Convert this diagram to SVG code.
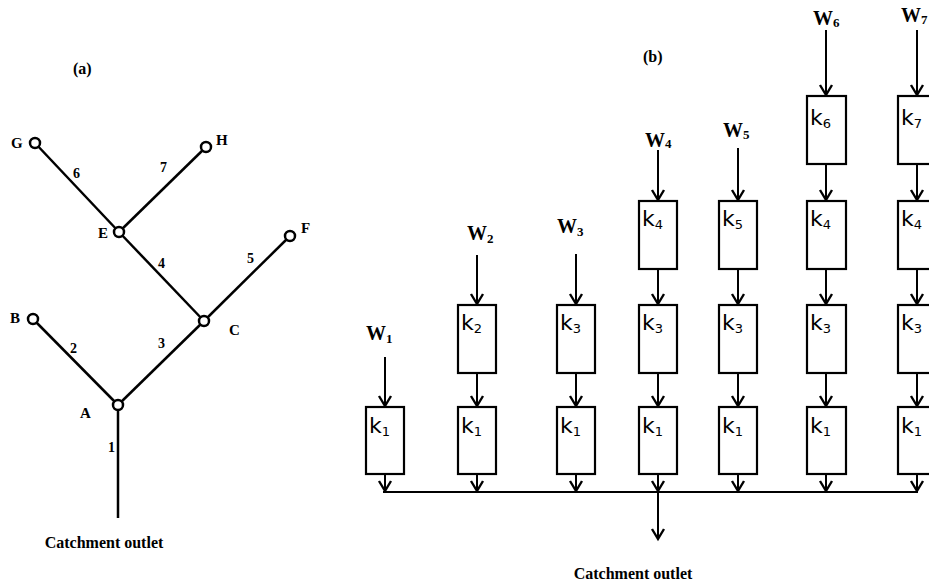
<svg xmlns="http://www.w3.org/2000/svg" width="929" height="586" viewBox="0 0 929 586">
<defs>
<style>
.lbl{font-family:"Liberation Serif",serif;font-weight:bold;font-size:15px;fill:#000}
.num{font-family:"Liberation Serif",serif;font-weight:bold;font-size:14px;fill:#000}
.cap{font-family:"Liberation Serif",serif;font-weight:bold;font-size:16px;fill:#000}
.w{font-family:"Liberation Serif",serif;font-weight:bold;font-size:20px;fill:#000}
.k{font-family:"DejaVu Sans",sans-serif;font-size:22px;fill:#000}
.sub{font-size:13px}
.edge{stroke:#000;stroke-width:2.5;fill:none}
.node{stroke:#000;stroke-width:2.5;fill:#fff}
.box{stroke:#000;stroke-width:2.2;fill:#fff}
.arr{stroke:#000;stroke-width:2;fill:none;marker-end:url(#ah)}
.ln{stroke:#000;stroke-width:2;fill:none}
</style>
<marker id="ah" markerUnits="userSpaceOnUse" markerWidth="14" markerHeight="16" viewBox="-12 -8 14 16" refX="0" refY="0" orient="auto" overflow="visible">
<path d="M-10,-6 L0,0 L-10,6" fill="none" stroke="#000" stroke-width="2.4"/>
</marker>
</defs>

<!-- (a) tree -->
<text class="cap" x="73" y="74">(a)</text>
<g id="edges-a">
<line class="edge" x1="35" y1="143" x2="119" y2="232"/>
<line class="edge" x1="206" y1="147" x2="119" y2="232"/>
<line class="edge" x1="119" y1="232" x2="204" y2="321"/>
<line class="edge" x1="290" y1="236" x2="204" y2="321"/>
<line class="edge" x1="33" y1="319" x2="118" y2="405"/>
<line class="edge" x1="204" y1="321" x2="118" y2="405"/>
<line class="edge" x1="118" y1="405" x2="118" y2="518"/>
<text class="num" x="73" y="178">6</text>
<text class="num" x="160" y="172">7</text>
<text class="num" x="158" y="268">4</text>
<text class="num" x="247" y="263">5</text>
<text class="num" x="70" y="353">2</text>
<text class="num" x="158" y="348">3</text>
<text class="num" x="108" y="452">1</text>
</g>
<g id="nG"><circle class="node" cx="35" cy="143" r="5"/><text class="lbl" x="11" y="148">G</text></g>
<g id="nH"><circle class="node" cx="206" cy="147" r="5"/><text class="lbl" x="216" y="145">H</text></g>
<g id="nE"><circle class="node" cx="119" cy="232" r="5"/><text class="lbl" x="98" y="238">E</text></g>
<g id="nF"><circle class="node" cx="290" cy="236" r="5"/><text class="lbl" x="301" y="233">F</text></g>
<g id="nC"><circle class="node" cx="204" cy="321" r="5"/><text class="lbl" x="229" y="335">C</text></g>
<g id="nB"><circle class="node" cx="33" cy="319" r="5"/><text class="lbl" x="10" y="323">B</text></g>
<g id="nA"><circle class="node" cx="118" cy="405" r="5"/><text class="lbl" x="80" y="418">A</text></g>
<text class="cap" x="104" y="548" text-anchor="middle">Catchment outlet</text>

<!-- (b) cascade -->
<text class="cap" x="643" y="62">(b)</text>

<g id="connectors">
<line class="arr" x1="385" y1="357" x2="385" y2="406"/>
<line class="arr" x1="477" y1="255" x2="477" y2="304"/>
<line class="arr" x1="576" y1="254" x2="576" y2="304"/>
<line class="arr" x1="658" y1="150" x2="658" y2="200"/>
<line class="arr" x1="738" y1="148" x2="738" y2="200"/>
<line class="arr" x1="826" y1="30" x2="826" y2="95"/>
<line class="arr" x1="917" y1="30" x2="917" y2="95"/>
<line class="arr" x1="826" y1="164" x2="826" y2="200"/>
<line class="arr" x1="917" y1="164" x2="917" y2="200"/>
<line class="arr" x1="658" y1="269" x2="658" y2="304"/>
<line class="arr" x1="738" y1="269" x2="738" y2="304"/>
<line class="arr" x1="826" y1="269" x2="826" y2="304"/>
<line class="arr" x1="917" y1="269" x2="917" y2="304"/>
<line class="arr" x1="477" y1="373" x2="477" y2="406"/>
<line class="arr" x1="576" y1="373" x2="576" y2="406"/>
<line class="arr" x1="658" y1="373" x2="658" y2="406"/>
<line class="arr" x1="738" y1="373" x2="738" y2="406"/>
<line class="arr" x1="826" y1="373" x2="826" y2="406"/>
<line class="arr" x1="917" y1="373" x2="917" y2="406"/>
<line class="arr" x1="385" y1="474" x2="385" y2="491"/>
<line class="arr" x1="477" y1="474" x2="477" y2="491"/>
<line class="arr" x1="576" y1="474" x2="576" y2="491"/>
<line class="arr" x1="658" y1="474" x2="658" y2="491"/>
<line class="arr" x1="738" y1="474" x2="738" y2="491"/>
<line class="arr" x1="826" y1="474" x2="826" y2="491"/>
<line class="arr" x1="917" y1="474" x2="917" y2="491"/>
<line class="ln" x1="383" y1="492" x2="918" y2="492"/>
<line class="arr" x1="658" y1="492" x2="658" y2="539"/>
</g>

<g id="w-labels">
<text class="w" x="366" y="340">W<tspan class="sub" dy="3">1</tspan></text>
<text class="w" x="467" y="240">W<tspan class="sub" dy="3">2</tspan></text>
<text class="w" x="557" y="233">W<tspan class="sub" dy="3">3</tspan></text>
<text class="w" x="645" y="147">W<tspan class="sub" dy="1">4</tspan></text>
<text class="w" x="723" y="137">W<tspan class="sub" dy="2">5</tspan></text>
<text class="w" x="813" y="25">W<tspan class="sub" dy="2">6</tspan></text>
<text class="w" x="901" y="22">W<tspan class="sub" dy="2">7</tspan></text>
</g>

<g id="col1">
<g id="c1k1"><rect class="box" x="366" y="407" width="38" height="67"/><text class="k" x="369" y="433">k<tspan class="sub" dy="3">1</tspan></text></g>
</g>
<g id="col2">
<g id="c2k2"><rect class="box" x="458" y="305" width="38" height="68"/><text class="k" x="461" y="330">k<tspan class="sub" dy="3">2</tspan></text></g>
<g id="c2k1"><rect class="box" x="458" y="407" width="38" height="67"/><text class="k" x="461" y="433">k<tspan class="sub" dy="3">1</tspan></text></g>
</g>
<g id="col3">
<g id="c3k3"><rect class="box" x="557" y="305" width="38" height="68"/><text class="k" x="560" y="330">k<tspan class="sub" dy="3">3</tspan></text></g>
<g id="c3k1"><rect class="box" x="557" y="407" width="38" height="67"/><text class="k" x="560" y="433">k<tspan class="sub" dy="3">1</tspan></text></g>
</g>
<g id="col4">
<g id="c4k4"><rect class="box" x="639" y="201" width="38" height="68"/><text class="k" x="642" y="226">k<tspan class="sub" dy="3">4</tspan></text></g>
<g id="c4k3"><rect class="box" x="639" y="305" width="38" height="68"/><text class="k" x="642" y="330">k<tspan class="sub" dy="3">3</tspan></text></g>
<g id="c4k1"><rect class="box" x="639" y="407" width="38" height="67"/><text class="k" x="642" y="433">k<tspan class="sub" dy="3">1</tspan></text></g>
</g>
<g id="col5">
<g id="c5k5"><rect class="box" x="719" y="201" width="38" height="68"/><text class="k" x="722" y="226">k<tspan class="sub" dy="3">5</tspan></text></g>
<g id="c5k3"><rect class="box" x="719" y="305" width="38" height="68"/><text class="k" x="722" y="330">k<tspan class="sub" dy="3">3</tspan></text></g>
<g id="c5k1"><rect class="box" x="719" y="407" width="38" height="67"/><text class="k" x="722" y="433">k<tspan class="sub" dy="3">1</tspan></text></g>
</g>
<g id="col6">
<g id="c6k6"><rect class="box" x="807" y="96" width="39" height="68"/><text class="k" x="810" y="125">k<tspan class="sub" dy="3">6</tspan></text></g>
<g id="c6k4"><rect class="box" x="807" y="201" width="39" height="68"/><text class="k" x="810" y="226">k<tspan class="sub" dy="3">4</tspan></text></g>
<g id="c6k3"><rect class="box" x="807" y="305" width="39" height="68"/><text class="k" x="810" y="330">k<tspan class="sub" dy="3">3</tspan></text></g>
<g id="c6k1"><rect class="box" x="807" y="407" width="39" height="67"/><text class="k" x="810" y="433">k<tspan class="sub" dy="3">1</tspan></text></g>
</g>
<g id="col7">
<g id="c7k7"><rect class="box" x="898" y="96" width="38" height="68"/><text class="k" x="901" y="125">k<tspan class="sub" dy="3">7</tspan></text></g>
<g id="c7k4"><rect class="box" x="898" y="201" width="38" height="68"/><text class="k" x="901" y="226">k<tspan class="sub" dy="3">4</tspan></text></g>
<g id="c7k3"><rect class="box" x="898" y="305" width="38" height="68"/><text class="k" x="901" y="330">k<tspan class="sub" dy="3">3</tspan></text></g>
<g id="c7k1"><rect class="box" x="898" y="407" width="38" height="67"/><text class="k" x="901" y="433">k<tspan class="sub" dy="3">1</tspan></text></g>
</g>

<text class="cap" x="633" y="579" text-anchor="middle">Catchment outlet</text>
</svg>
